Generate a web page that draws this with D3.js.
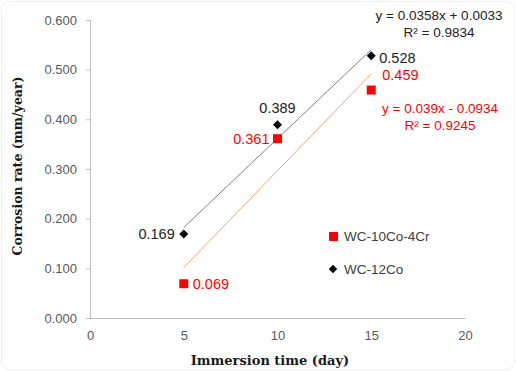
<!DOCTYPE html>
<html>
<head>
<meta charset="utf-8">
<script src="https://cdn.jsdelivr.net/npm/d3@7"></script>
<style>
  body { margin: 0; background: #fff; }
  svg text { font-family: "Liberation Sans", Arial, sans-serif; }
</style>
</head>
<body>
<div id="chart"></div>
<script>
// DATA
var days = [5, 10, 15];
var rateCr = [0.069, 0.361, 0.459];   // WC-10Co-4Cr
var rateCo = [0.169, 0.389, 0.528];   // WC-12Co
var fitCr = { slope: 0.039, icpt: -0.0934, label: "y = 0.039x - 0.0934", r2: "R² = 0.9245" };
var fitCo = { slope: 0.0358, icpt: 0.0033, label: "y = 0.0358x + 0.0033", r2: "R² = 0.9834" };
var xTicks = [0, 5, 10, 15, 20];
var yTicks = [0, 0.1, 0.2, 0.3, 0.4, 0.5, 0.6];
var seriesNames = ["WC-10Co-4Cr", "WC-12Co"];

var W = 516, H = 371;
var RED = "#ff0000", BLK = "#000000";

var svg = d3.select('#chart').append('svg')
    .attr('width', W)
    .attr('height', H);

// chart area border
svg.append('rect')
    .attr('x', 1.5).attr('y', 1.5)
    .attr('width', W - 3).attr('height', H - 3)
    .attr('rx', 8)
    .attr('fill', '#fff')
    .attr('stroke', '#f0f0f0');

var x = d3.scaleLinear().domain([0, 20]).range([90, 465]);
var y = d3.scaleLinear().domain([0, 0.6]).range([318, 20]);

// axes
var yAxis = svg.append('g')
    .attr('transform', 'translate(90,0)')
    .call(d3.axisLeft(y).tickValues(yTicks).tickFormat(d3.format('.3f')).tickSize(4).tickPadding(9));
var xAxis = svg.append('g')
    .attr('transform', 'translate(0,318)')
    .call(d3.axisBottom(x).tickValues(xTicks).tickSize(0).tickPadding(13));

[yAxis, xAxis].forEach(function(a) {
  a.select('.domain').attr('stroke', '#bfbfbf');
  a.selectAll('line').attr('stroke', '#bfbfbf');
  a.selectAll('text')
      .attr('fill', '#595959')
      .style('font-size', '13px')
      .style('font-family', '"Liberation Sans", Arial, sans-serif');
});

// axis titles
svg.append('text')
    .attr('transform', 'translate(22,166) rotate(-90)')
    .attr('text-anchor', 'middle')
    .style('font-family', '"DejaVu Serif", serif')
    .style('font-weight', 'bold')
    .style('font-size', '12.5px')
    .attr('fill', '#1a1a1a')
    .text('Corrosion rate (mm/year)');
svg.append('text')
    .attr('x', 270).attr('y', 365)
    .attr('text-anchor', 'middle')
    .style('font-family', '"DejaVu Serif", serif')
    .style('font-weight', 'bold')
    .style('font-size', '13px')
    .attr('fill', '#1a1a1a')
    .text('Immersion time (day)');

// trend lines
function trend(f, color) {
  svg.append('line')
      .attr('x1', x(days[0])).attr('y1', y(f.slope * days[0] + f.icpt))
      .attr('x2', x(days[2])).attr('y2', y(f.slope * days[2] + f.icpt))
      .attr('stroke', color)
      .attr('stroke-width', 1);
}
trend(fitCo, '#808080');
trend(fitCr, '#f0a878');

// markers
svg.selectAll('.co')
    .data(days)
    .enter().append('rect')
      .attr('class', 'co')
      .attr('x', -3.2).attr('y', -3.2)
      .attr('width', 6.4).attr('height', 6.4)
      .attr('transform', function(d, i) { return 'translate(' + x(d) + ',' + y(rateCo[i]) + ') rotate(45)'; })
      .attr('fill', BLK);
svg.selectAll('.cr')
    .data(days)
    .enter().append('rect')
      .attr('class', 'cr')
      .attr('x', function(d) { return x(d) - 4.5; })
      .attr('y', function(d, i) { return y(rateCr[i]) - 4.5; })
      .attr('width', 9).attr('height', 9)
      .attr('fill', RED);

// data labels: [dx, dy, anchor]
var coOff = [[-9, 5, 'end'], [0, -12, 'middle'], [8, 7, 'start']];
var crOff = [[9, 5, 'start'], [-8, 5, 'end'], [11, -10, 'start']];
svg.selectAll('.colab')
    .data(days)
    .enter().append('text')
      .attr('x', function(d, i) { return x(d) + coOff[i][0]; })
      .attr('y', function(d, i) { return y(rateCo[i]) + coOff[i][1]; })
      .attr('text-anchor', function(d, i) { return coOff[i][2]; })
      .attr('fill', '#222')
      .style('font-size', '14.5px')
      .text(function(d, i) { return d3.format('.3f')(rateCo[i]); });
svg.selectAll('.crlab')
    .data(days)
    .enter().append('text')
      .attr('x', function(d, i) { return x(d) + crOff[i][0]; })
      .attr('y', function(d, i) { return y(rateCr[i]) + crOff[i][1]; })
      .attr('text-anchor', function(d, i) { return crOff[i][2]; })
      .attr('fill', RED)
      .style('font-size', '14.5px')
      .text(function(d, i) { return d3.format('.3f')(rateCr[i]); });

// equations
function eq(f, color, cx, cy) {
  var t = svg.append('text')
      .attr('text-anchor', 'middle')
      .attr('fill', color)
      .style('font-size', '13.5px');
  t.append('tspan').attr('x', cx).attr('y', cy).text(f.label);
  t.append('tspan').attr('x', cx).attr('y', cy + 17).text(f.r2);
}
eq(fitCo, '#222', 439, 20);
eq(fitCr, RED, 440, 113);

// legend
var leg = svg.append('g');
leg.append('rect').attr('x', 329).attr('y', 232).attr('width', 9).attr('height', 9).attr('fill', RED);
leg.append('rect').attr('x', -3).attr('y', -3).attr('width', 6).attr('height', 6)
    .attr('transform', 'translate(333,269) rotate(45)').attr('fill', BLK);
leg.selectAll('.lt')
    .data(seriesNames)
    .enter().append('text')
      .attr('x', 344)
      .attr('y', function(d, i) { return 241 + i * 33; })
      .attr('fill', '#404040')
      .style('font-size', '13.5px')
      .text(function(d) { return d; });
</script>
</body>
</html>
